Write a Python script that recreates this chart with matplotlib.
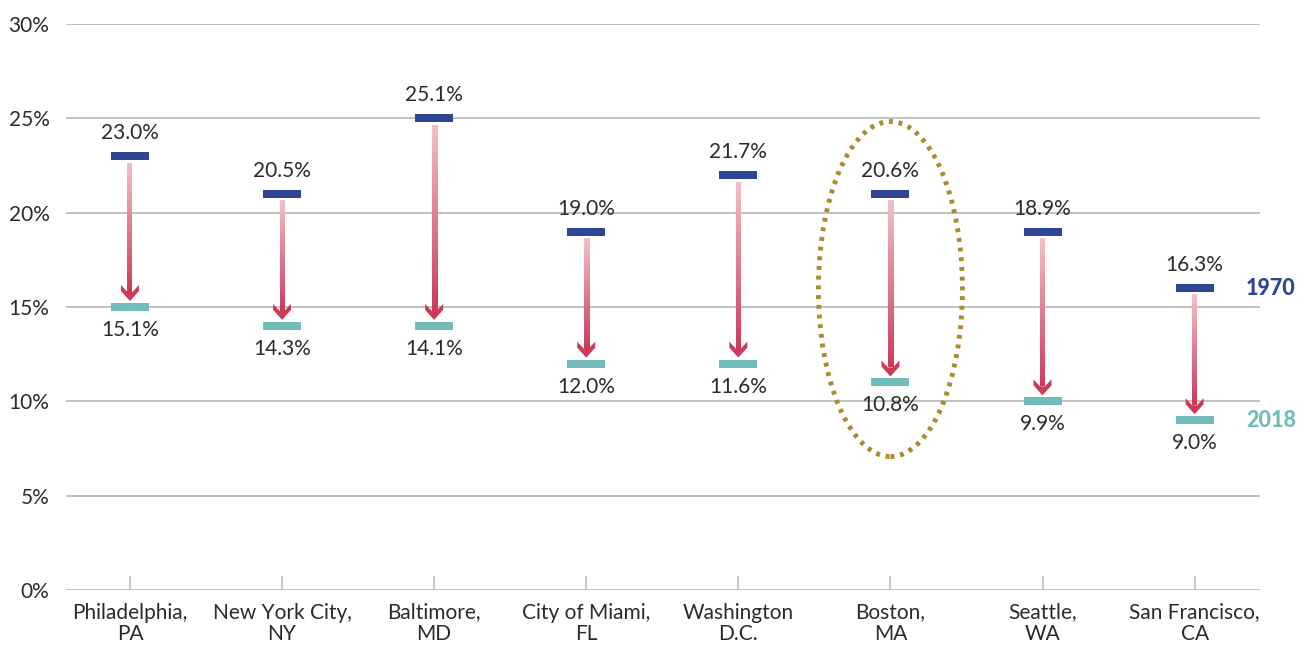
import numpy as np
import matplotlib
matplotlib.use("Agg")
import matplotlib.pyplot as plt
from matplotlib.patches import Polygon, Ellipse, Rectangle
from matplotlib.colors import LinearSegmentedColormap

# data
cities = ["Philadelphia,\nPA", "New York City,\nNY", "Baltimore,\nMD", "City of Miami,\nFL",
          "Washington\nD.C.", "Boston,\nMA", "Seattle,\nWA", "San Francisco,\nCA"]
val_1970 = [23.0, 20.5, 25.1, 19.0, 21.7, 20.6, 18.9, 16.3]
val_2018 = [15.1, 14.3, 14.1, 12.0, 11.6, 10.8, 9.9, 9.0]
highlight = "Boston,\nMA"

BLUE = "#2e4593"
TEAL = "#72bcb9"
GOLD = "#a98a2c"
TEXT = "#2b2b2b"

plt.rcParams['font.family'] = ['Lato', 'DejaVu Sans']

fig = plt.figure(figsize=(13.03, 6.48), dpi=100)
ax = fig.add_axes([0.0507, 0.0895, 0.9163, 0.8735])
ax.set_xlim(-0.42, 7.43)
ax.set_ylim(0, 30)

# pixel -> data scale helpers
fig.canvas.draw()
bb = ax.get_window_extent()
px_x = (7.43 + 0.42) / bb.width
px_y = 30 / bb.height

ax.set_yticks(np.arange(0, 31, 5))
ax.set_yticklabels([f"{v}%" for v in range(0, 31, 5)])
ax.yaxis.grid(True, color="#bdbdbd", linewidth=1.3)
ax.set_axisbelow(True)
for s in ax.spines.values():
    s.set_visible(False)
ax.tick_params(axis='y', length=0, pad=12, labelsize=15, labelcolor=TEXT)
ax.set_xticks(range(len(cities)))
ax.set_xticklabels(cities, fontsize=15, color=TEXT, linespacing=1.12)
ax.tick_params(axis='x', direction='in', length=10, width=1.2, color="#bdbdbd", pad=9)

cmap = LinearSegmentedColormap.from_list("arr", ["#f3c0ca", "#cb3b58"])
grad = np.linspace(0, 1, 256).reshape(-1, 1)


def snap(v):
    # markers sit on the whole-percent level
    return float(np.floor(v + 0.5))


bw = 38 * px_x
bh = 8 * px_y
for i, (a, b) in enumerate(zip(val_1970, val_2018)):
    ya = snap(a)
    yb = snap(b)
    ax.add_patch(Rectangle((i - bw / 2, ya - bh / 2), bw, bh, color=BLUE, zorder=4, lw=0))
    ax.add_patch(Rectangle((i - bw / 2, yb - bh / 2), bw, bh, color=TEAL, zorder=4, lw=0))

    top = ya - 7 * px_y
    tip = yb + 6 * px_y
    sw = 2.5 * px_x
    shaft_end = tip + 9 * px_y
    ax.imshow(grad, cmap=cmap, aspect='auto', origin='upper',
              extent=[i - sw, i + sw, shaft_end, top], zorder=3, vmin=0, vmax=1)
    head = [(0, 0), (-9, 10), (-9, 16), (-2.5, 9), (2.5, 9), (9, 16), (9, 10)]
    ax.add_patch(Polygon([(i + hx * px_x, tip + hy * px_y) for hx, hy in head],
                         closed=True, color="#cb3b58", lw=0, zorder=3))

    ax.annotate(f"{a:.1f}%", (i, ya), xytext=(0, 16.5), textcoords='offset points',
                ha='center', va='center', fontsize=15, color=TEXT)
    ax.annotate(f"{b:.1f}%", (i, yb), xytext=(0, -16.5), textcoords='offset points',
                ha='center', va='center', fontsize=15, color=TEXT)

ax.set_xlim(-0.42, 7.43)
ax.set_ylim(0, 30)

# legend-like labels at right
last = len(cities) - 1
ax.annotate("1970", (last, snap(val_1970[last])), xytext=(37, 0), textcoords='offset points',
            ha='left', va='center', fontsize=15.5, fontweight='black', color=BLUE, annotation_clip=False)
ax.annotate("2018", (last, snap(val_2018[last])), xytext=(37, 0), textcoords='offset points',
            ha='left', va='center', fontsize=15.5, fontweight='black', color=TEAL, annotation_clip=False)

# highlight ellipse
hi = cities.index(highlight)
ax.add_patch(Ellipse((hi, 15.95), 144 * px_x, 335 * px_y, fill=False, edgecolor=GOLD,
                     linewidth=3.5, linestyle=(0, (0.8, 1.2)), zorder=5))

fig.savefig("out.png", dpi=100)
